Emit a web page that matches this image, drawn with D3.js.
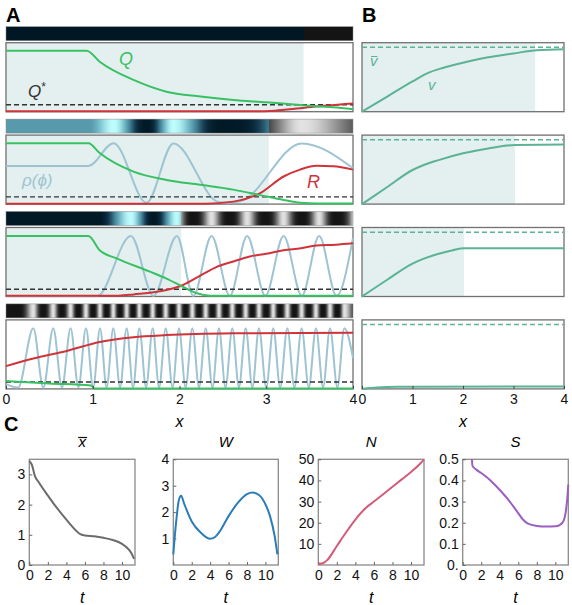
<!DOCTYPE html>
<html>
<head>
<meta charset="utf-8">
<script src="https://cdn.jsdelivr.net/npm/d3@7"></script>
<style>
body { margin: 0; background: #fff; }
text { font-family: "Liberation Sans", Arial, sans-serif; }
</style>
</head>
<body>
<div id="chart-area"></div>
<script>
// values
var xTicksA = [0, 1, 2, 3, 4];
var shadeEnd = [3.43, 3.03, 2.02, 0];
var qStar = [0.1, 0.105, 0.105, 0.1];
var rhoMax = 0.88;

var qRows = [
    [[0,0.884],[0.93,0.884],[1.08,0.725],[1.47,0.46],[1.85,0.29],[2.24,0.22],[2.62,0.17],[3.0,0.136],[3.39,0.097],[3.77,0.064],[4,0.035]],
    [[0,0.883],[0.95,0.883],[1.08,0.74],[1.47,0.47],[1.85,0.35],[2.24,0.28],[2.62,0.21],[2.93,0.13],[3.2,0.06],[3.39,0.02],[3.6,0.01],[4,0.01]],
    [[0,0.877],[0.95,0.877],[1.08,0.67],[1.28,0.55],[1.66,0.36],[1.85,0.26],[2.04,0.14],[2.2,0.046],[2.35,0.012],[4,0.012]],
    [[0,0.115],[0.5,0.08],[0.98,0.05],[1.02,0.005],[4,0.005]]
];
var rRows = [
    [[0,0.005],[2.8,0.005],[3.1,0.015],[3.39,0.05],[3.7,0.09],[4,0.12]],
    [[0,0.005],[2.3,0.005],[2.62,0.036],[2.93,0.16],[3.2,0.4],[3.39,0.5],[3.58,0.555],[3.77,0.55],[4,0.5]],
    [[0,0.01],[1.3,0.012],[1.47,0.03],[1.85,0.094],[2.04,0.167],[2.25,0.31],[2.43,0.43],[2.6,0.5],[2.81,0.58],[3.0,0.62],[3.2,0.67],[3.4,0.7],[3.58,0.74],[3.8,0.75],[4,0.77]],
    [[0,0.33],[0.315,0.44],[0.7,0.55],[1.08,0.68],[1.47,0.75],[1.85,0.78],[2.62,0.805],[4,0.815]]
];
var rho1 = [[0,0],[4,0]];
var rho2 = [[0,0.553],[0.95,0.553],[1.24,0.883],[1.62,0.02],[1.93,0.88],[2.45,0.03],[2.55,0.02],[2.7,0.04],[3.41,0.88],[4,0.52]];
var rho3 = [[0,0.005],[1.05,0.005],[1.44,0.877],[1.70,0.01],[1.97,0.877],[2.16,0.01],[2.37,0.877],[2.58,0.01],[2.78,0.877],[2.99,0.01],[3.2,0.877],[3.41,0.01],[3.61,0.877],[3.81,0.01],[4,0.85]];
var rho4Peaks = [0.315,0.545,0.745,0.922,1.084,1.237,1.391,1.537,1.691,1.841,1.994,2.148,2.302,2.455,2.609,2.763,2.916,3.081,3.243,3.408,3.573,3.735,3.900];
var rho4Troughs = [0.14,0.43,0.645,0.835,1.005,1.16,1.315,1.465,1.615,1.765,1.92,2.07,2.225,2.38,2.53,2.685,2.84,3.0,3.16,3.325,3.49,3.655,3.82];
var rho4Start = [0, 0.07], rho4End = [4, 0.45];

var vBar = 1;
var vRows = [
    [[0,0],[0.5,0.235],[1.0,0.47],[1.3,0.6],[1.6,0.68],[2.0,0.76],[2.5,0.845],[3.0,0.905],[3.46,0.955],[4,0.97]],
    [[0,0],[0.5,0.265],[1.0,0.53],[1.2,0.6],[1.5,0.68],[2.0,0.79],[2.5,0.865],[3.04,0.92],[4,0.925]],
    [[0,0],[0.5,0.26],[1.0,0.51],[1.2,0.58],[1.5,0.66],[1.8,0.72],[2.02,0.75],[4,0.75]],
    [[0,0],[0.3,0.02],[0.7,0.033],[1.0,0.035],[4,0.036]]
];

var tTicks = [0, 2, 4, 6, 8, 10];
var xbarT = [[0,3.45],[0.3,3.3],[0.6,2.95],[1,2.75],[2,2.3],[2.7,2.0],[3,1.88],[4,1.5],[5,1.15],[5.5,1.02],[6,0.98],[7,0.95],[8,0.9],[9,0.83],[10,0.7],[10.5,0.58],[11,0.4],[11.3,0.2]];
var wT = [[0,0.4],[0.3,1.6],[0.6,2.45],[0.85,2.62],[1.2,2.3],[2,1.65],[3,1.22],[4,0.99],[4.5,1.05],[5,1.25],[6,1.85],[7,2.35],[8,2.68],[8.6,2.74],[9.3,2.65],[10,2.3],[10.5,1.85],[11,1.1],[11.3,0.4]];
var nT = [[0,0.5],[0.5,0.8],[1,2.5],[2,9],[3,15.5],[4,21.5],[5,26.5],[6,30],[7,33.5],[8,37],[9,40.5],[10,44],[11,48],[11.4,50]];
var sT = [[1.0,0.5],[1.05,0.47],[1.5,0.45],[2,0.435],[3,0.4],[4,0.355],[5,0.305],[6,0.245],[6.5,0.215],[7,0.197],[8,0.185],[9,0.182],[10,0.183],[10.5,0.19],[10.9,0.21],[11.15,0.26],[11.3,0.32],[11.4,0.38]];

var rho4 = [rho4Start].concat(rho4Peaks.map(d => [d, rhoMax]), rho4Troughs.map(d => [d, 0.02]), [rho4End])
    .sort((a, b) => a[0] - b[0]);
var rhoRows = [rho1, rho2, rho3, rho4];

var svg = d3.select("#chart-area").append("svg")
.attr("width", 572)
.attr("height", 605)
var defs = svg.append("defs")

var xA = d3.scaleLinear().domain([0, 4]).range([6, 353])
var xB = d3.scaleLinear().domain([0, 4]).range([362, 564])
var rowTop = [42.7, 135.1, 227.5, 319.9], rowH = 69

var green = "#38c163", red = "#d0333a", blue = "#9ec4d2", teal = "#5cb394", shade = "#e3f0ef", frame = "#707070"

var tealMap = d3.interpolateRgbBasis(["#011824", "#0a2a40", "#3f7f94", "#6cb4c3", "#bdfcfc"])
var grayMap = t => d3.interpolateRgb("#141414", "#e2e2e2")(Math.pow(t, 2))

function curve(x, y) {
    return d3.line().x(d => x(d[0])).y(d => y(d[1])).curve(d3.curveMonotoneX)
}

function sampleCurve(pts, x, y) {
    var p = svg.append("path").attr("d", curve(x, y)(pts)).attr("fill", "none").attr("stroke", "none")
    var node = p.node(), L = node.getTotalLength(), out = [], lastX = -1
    for (var s = 0; s <= L; s += 0.5) {
        var q = node.getPointAtLength(s)
        if (q.x - lastX >= 0.5) { out.push([q.x, y.invert(q.y)]); lastX = q.x }
    }
    var q = node.getPointAtLength(L)
    out.push([q.x, y.invert(q.y)])
    p.remove()
    return out
}

// Panel A and B rows
rowTop.forEach((top, i) => {
    var yA = d3.scaleLinear().domain([0, 1]).range([top + rowH, top])
    var yB = d3.scaleLinear().domain([0, 1.072]).range([top + rowH, top])

    // colour strip from rho(phi)
    var samples = sampleCurve(rhoRows[i], xA, yA)
    var edge = xA(shadeEnd[i])
    var span = xA(4) - xA(0)
    var grad = defs.append("linearGradient").attr("id", "strip" + i)
        .attr("x1", 0).attr("x2", 1).attr("y1", 0).attr("y2", 0)
    var stops = []
    samples.forEach((s, k) => {
        var t = Math.max(0, Math.min(1, s[1] / rhoMax))
        if (k > 0 && samples[k - 1][0] < edge && s[0] >= edge) {
            var tp = Math.max(0, Math.min(1, samples[k - 1][1] / rhoMax))
            var eo = (edge - xA(0)) / span
            stops.push([eo, tealMap(tp)], [eo, grayMap(tp)])
        }
        stops.push([(s[0] - xA(0)) / span, s[0] < edge ? tealMap(t) : grayMap(t)])
    })
    grad.selectAll("stop").data(stops).enter().append("stop")
        .attr("offset", d => Math.max(0, Math.min(1, d[0])))
        .attr("stop-color", d => d[1])
    svg.append("rect")
        .attr("x", xA(0)).attr("y", top - 16)
        .attr("width", span).attr("height", 14)
        .attr("fill", "url(#strip" + i + ")")
        .attr("stroke", "#888").attr("stroke-width", 0.5)

    // A plot
    if (shadeEnd[i] > 0) {
        svg.append("rect").attr("x", xA(0)).attr("y", top)
            .attr("width", xA(shadeEnd[i]) - xA(0)).attr("height", rowH).attr("fill", shade)
    }
    svg.append("rect").attr("x", xA(0)).attr("y", top)
        .attr("width", span).attr("height", rowH)
        .attr("fill", "none").attr("stroke", frame).attr("stroke-width", 1.3)

    if (i > 0) {
        svg.append("path").attr("d", curve(xA, yA)(rhoRows[i]))
            .attr("fill", "none").attr("stroke", blue).attr("stroke-width", 2)
    }
    svg.append("line")
        .attr("x1", xA(0)).attr("x2", xA(4))
        .attr("y1", yA(qStar[i])).attr("y2", yA(qStar[i]))
        .attr("stroke", "#333").attr("stroke-width", 1.4).attr("stroke-dasharray", "5,3")
    svg.append("path").attr("d", curve(xA, yA)(rRows[i]))
        .attr("fill", "none").attr("stroke", red).attr("stroke-width", 2)
    svg.append("path").attr("d", curve(xA, yA)(qRows[i]))
        .attr("fill", "none").attr("stroke", green).attr("stroke-width", 2)

    // B plot
    var bw = xB(4) - xB(0)
    if (shadeEnd[i] > 0) {
        svg.append("rect").attr("x", xB(0)).attr("y", top)
            .attr("width", xB(shadeEnd[i]) - xB(0)).attr("height", rowH).attr("fill", shade)
    }
    svg.append("rect").attr("x", xB(0)).attr("y", top)
        .attr("width", bw).attr("height", rowH)
        .attr("fill", "none").attr("stroke", frame).attr("stroke-width", 1.3)
    svg.append("line")
        .attr("x1", xB(0)).attr("x2", xB(4))
        .attr("y1", yB(vBar)).attr("y2", yB(vBar))
        .attr("stroke", teal).attr("stroke-width", 1.5).attr("stroke-dasharray", "5,3")
    svg.append("path").attr("d", curve(xB, yB)(vRows[i]))
        .attr("fill", "none").attr("stroke", teal).attr("stroke-width", 2)
})

// bottom axes of A and B
var axisY = rowTop[3] + rowH
svg.append("g")
.attr("transform", "translate(0, " + axisY + ")")
.call(d3.axisBottom(xA).tickValues(xTicksA).tickFormat(d3.format("d")).tickSize(-3).tickPadding(5))
.call(g => g.select(".domain").remove())
svg.append("g")
.attr("transform", "translate(0, " + axisY + ")")
.call(d3.axisBottom(xB).tickValues(xTicksA).tickFormat(d3.format("d")).tickSize(-3).tickPadding(5))
.call(g => g.select(".domain").remove())
svg.selectAll(".tick text").attr("font-size", "14px").attr("font-family", "Liberation Sans, Arial, sans-serif").attr("fill", "#111")
svg.selectAll(".tick line").attr("stroke", "#444")

svg.append("text").attr("x", xA(2)).attr("y", 427).attr("text-anchor", "middle")
.attr("font-size", "16px").attr("font-style", "italic").text("x")
svg.append("text").attr("x", xB(2)).attr("y", 427).attr("text-anchor", "middle")
.attr("font-size", "16px").attr("font-style", "italic").text("x")

// labels in A and B
svg.append("text").attr("x", 119).attr("y", 65).attr("font-size", "18px").attr("font-style", "italic").attr("fill", green).text("Q")
var qs = svg.append("text").attr("x", 28).attr("y", 97).attr("font-size", "17px").attr("font-style", "italic").attr("fill", "#333")
qs.append("tspan").text("Q")
qs.append("tspan").attr("dy", -6).attr("font-size", "12px").attr("font-style", "normal").text("*")
svg.append("text").attr("x", 22).attr("y", 186).attr("font-size", "17px").attr("font-style", "italic").attr("fill", blue).text("ρ(ϕ)")
svg.append("text").attr("x", 307).attr("y", 188).attr("font-size", "18px").attr("font-style", "italic").attr("fill", red).text("R")
svg.append("text").attr("x", 370).attr("y", 66).attr("font-size", "15px").attr("font-style", "italic").attr("fill", teal).text("v")
svg.append("line").attr("x1", 371).attr("x2", 377.5).attr("y1", 56.5).attr("y2", 56.5).attr("stroke", teal).attr("stroke-width", 1)
svg.append("text").attr("x", 428).attr("y", 90).attr("font-size", "15px").attr("font-style", "italic").attr("fill", teal).text("v")

// panel letters
svg.append("text").attr("x", 6).attr("y", 22).attr("font-size", "20px").attr("font-weight", "bold").text("A")
svg.append("text").attr("x", 362).attr("y", 22).attr("font-size", "20px").attr("font-weight", "bold").text("B")
svg.append("text").attr("x", 4).attr("y", 431).attr("font-size", "20px").attr("font-weight", "bold").text("C")

// Panel C
var cBoxes = [[29.3, 135], [173.3, 278.3], [318.3, 424], [462.7, 568.3]]
var cTop = 459.3, cBot = 565
var cPlots = [
    {data: xbarT, domain: [0, 3.5], ticks: [0, 1, 2, 3], fmt: d3.format("d"), color: "#6b6b6b", title: "x", bar: true},
    {data: wT, domain: [0, 4], ticks: [1, 2, 3, 4], fmt: d3.format("d"), color: "#2a7db8", title: "W"},
    {data: nT, domain: [0, 50], ticks: [10, 20, 30, 40, 50], fmt: d3.format("d"), color: "#d45c7a", title: "N"},
    {data: sT, domain: [0, 0.5], ticks: [0, 0.1, 0.2, 0.3, 0.4, 0.5], fmt: d => d === 0 ? "0." : d3.format(".1f")(d), color: "#9b5fc0", title: "S"}
]

cPlots.forEach((p, i) => {
    var x = d3.scaleLinear().domain([0, 11.4]).range(cBoxes[i])
    var y = d3.scaleLinear().domain(p.domain).range([cBot, cTop])
    var g = svg.append("g")
    g.append("rect").attr("x", cBoxes[i][0]).attr("y", cTop)
        .attr("width", cBoxes[i][1] - cBoxes[i][0]).attr("height", cBot - cTop)
        .attr("fill", "none").attr("stroke", "#8a8a8a").attr("stroke-width", 1.3)
    g.append("g").attr("transform", "translate(0, " + cBot + ")")
        .call(d3.axisBottom(x).tickValues(tTicks).tickFormat(d3.format("d")).tickSize(-3).tickPadding(5))
        .call(a => a.select(".domain").remove())
    g.append("g").attr("transform", "translate(" + cBoxes[i][0] + ", 0)")
        .call(d3.axisLeft(y).tickValues(p.ticks).tickFormat(p.fmt).tickSize(-3).tickPadding(4))
        .call(a => a.select(".domain").remove())
    g.selectAll(".tick text").attr("font-size", "14px").attr("font-family", "Liberation Sans, Arial, sans-serif").attr("fill", "#111")
    g.selectAll(".tick line").attr("stroke", "#666")
    g.append("path").attr("d", curve(x, y)(p.data))
        .attr("fill", "none").attr("stroke", p.color).attr("stroke-width", 2)
    var cx = (cBoxes[i][0] + cBoxes[i][1]) / 2
    g.append("text").attr("x", cx).attr("y", 447).attr("text-anchor", "middle")
        .attr("font-size", "15px").attr("font-style", "italic").text(p.title)
    if (p.bar) {
        g.append("line").attr("x1", cx - 4).attr("x2", cx + 5).attr("y1", 437.5).attr("y2", 437.5)
            .attr("stroke", "#111").attr("stroke-width", 1.2)
    }
    g.append("text").attr("x", cx).attr("y", 603).attr("text-anchor", "middle")
        .attr("font-size", "16px").attr("font-style", "italic").text("t")
})
</script>
</body>
</html>
